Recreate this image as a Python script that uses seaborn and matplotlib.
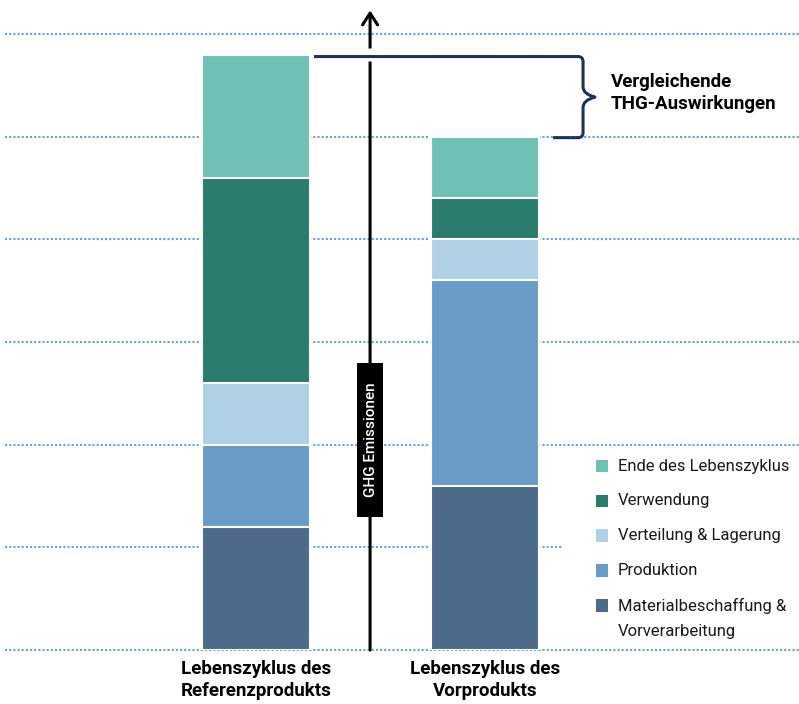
import numpy as np
import matplotlib
matplotlib.use("Agg")
import matplotlib.pyplot as plt
from matplotlib.patches import Rectangle, PathPatch
from matplotlib.path import Path
import seaborn as sns

# --- data -------------------------------------------------------------
products = ["Lebenszyklus des\nReferenzprodukts", "Lebenszyklus des\nVorprodukts"]
stages = ["Materialbeschaffung &\nVorverarbeitung", "Produktion",
          "Verteilung & Lagerung", "Verwendung", "Ende des Lebenszyklus"]
material = [1.2, 1.6]
produktion = [0.8, 2.0]
verteilung = [0.6, 0.4]
verwendung = [2.0, 0.4]
ende = [1.2, 0.6]
grid_levels = [0, 1, 2, 3, 4, 5, 6]

colors = ["#4C6A8A", "#699DC8", "#B0D0E6", "#2A7C6C", "#6FC1B3"]

axis_label = "GHG Emissionen"
brace_label = "Vergleichende\nTHG-Auswirkungen"

# --- figure -----------------------------------------------------------
sns.set_theme(style="white")
plt.rcParams["font.family"] = ["Roboto", "DejaVu Sans"]

fig = plt.figure(figsize=(7.99, 7.04), dpi=100)
ax = fig.add_axes([0, 0.0767, 1, 0.9188])

segments = np.array([material, produktion, verteilung, verwendung, ende])
cum = np.cumsum(segments, axis=0)
bar_w = 0.472

# stacked bars: draw cumulative totals from the top segment downwards
for i in range(len(stages) - 1, -1, -1):
    sns.barplot(x=products, y=cum[i], color=colors[i], width=bar_w,
                edgecolor="white", linewidth=1.5, saturation=1, ax=ax, zorder=3)

xmin, xmax = -1.118, 2.371
ax.set_xlim(xmin, xmax)
ax.set_ylim(0, 6.3)

# dotted guide lines
grid_kw = dict(color="#6D9FD0", lw=1.5, linestyle=(0, (1, 1)), zorder=1,
               clip_on=False)
for lv in grid_levels:
    right = 1.336 if lv == 1 else xmax
    ax.hlines(lv, -1.096, right, **grid_kw)

# vertical emissions axis with arrow
ax_x = 0.498
ax.annotate("", xy=(ax_x, 6.23), xytext=(ax_x, 0),
            arrowprops=dict(arrowstyle="->,head_length=0.7,head_width=0.45",
                            color="black", lw=2.2, shrinkA=0, shrinkB=0),
            zorder=4)
totals = cum[-1]
ax.plot([ax_x, ax_x], [totals[0] - 0.065, totals[0] + 0.06], color="white",
        lw=5, solid_capstyle="butt", zorder=5)

# label box on the axis
ax.add_patch(Rectangle((0.441, 1.295), 0.114, 1.5, facecolor="black",
                       edgecolor="none", zorder=6))
ax.text(ax_x + 0.003, 2.045, axis_label, rotation=90, color="white",
        fontsize=11, ha="center", va="center", zorder=7, fontweight="medium")

# curly brace between the two totals
x0 = 0.253
xr = 1.428
xt = 1.48
x1 = 1.297
y_top, y_bot = totals[0] - 0.02, totals[1] - 0.01
ym = (y_top + y_bot) / 2
rx, ry = 0.022, 0.05
verts = [
    (x0, y_top), (xr - rx, y_top),
    (xr, y_top), (xr, y_top - ry),
    (xr, ym + 0.1),
    (xr, ym + 0.03), (xt, ym),
    (xr, ym - 0.03), (xr, ym - 0.1),
    (xr, y_bot + ry),
    (xr, y_bot), (xr - rx, y_bot),
    (x1, y_bot),
]
codes = [Path.MOVETO, Path.LINETO,
         Path.CURVE3, Path.CURVE3,
         Path.LINETO,
         Path.CURVE3, Path.CURVE3,
         Path.CURVE3, Path.CURVE3,
         Path.LINETO,
         Path.CURVE3, Path.CURVE3,
         Path.LINETO]
ax.add_patch(PathPatch(Path(verts, codes), facecolor="none",
                       edgecolor="#1C3356", lw=2.2, zorder=6,
                       capstyle="butt", joinstyle="round"))
ax.text(1.548, ym + 0.04, brace_label, fontsize=13.5, fontweight="bold",
        color="black", ha="left", va="center", linespacing=1.35, zorder=7)

# legend
leg_x_sq, leg_x_txt = 1.511, 1.581
leg_y0, leg_dy = 1.792, 0.34
for k, i in enumerate(range(len(stages) - 1, -1, -1)):
    y = leg_y0 - k * leg_dy
    ax.add_patch(Rectangle((leg_x_sq - 0.028, y - 0.062), 0.056, 0.124,
                           facecolor=colors[i], edgecolor="none", zorder=6))
    ax.text(leg_x_txt, y, stages[i].split("\n")[0], fontsize=12,
            color="#1a1a1a", ha="left", va="center", zorder=7)
    for j, extra in enumerate(stages[i].split("\n")[1:], start=1):
        ax.text(leg_x_txt, y - j * 0.255, extra, fontsize=12,
                color="#1a1a1a", ha="left", va="center", zorder=7)

# category labels
ax.tick_params(axis="both", length=0)
ax.set_yticks([])
ax.set_xticks([0, 1])
ax.set_xticklabels(products, fontsize=13.5, fontweight="bold", color="black",
                   linespacing=1.3)
ax.tick_params(axis="x", pad=7)
ax.set_xlabel("")
ax.set_ylabel("")
for s in ax.spines.values():
    s.set_visible(False)

fig.savefig("out.png", dpi=100, facecolor="white")
